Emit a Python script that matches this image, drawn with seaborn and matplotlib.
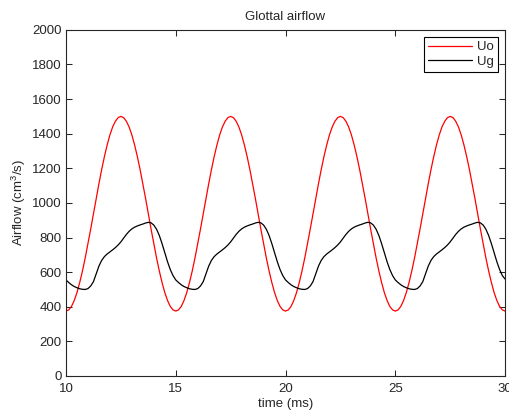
import numpy as np
import pandas as pd
import matplotlib
matplotlib.use("Agg")
import matplotlib.pyplot as plt
import seaborn as sns

# sample times (ms), 0.125 ms grid from 10 to 30
time_ms = np.round(np.arange(10.0, 30.0001, 0.125), 3)

# Uo (red) values
uo = [375, 382, 402, 436, 482, 540, 607, 682, 764, 849, 937, 1026, 1111, 1193, 1268, 1335, 1393, 1439, 1472, 1493,
      1500, 1493, 1472, 1439, 1393, 1335, 1268, 1193, 1111, 1026, 937, 849, 764, 682, 607, 540, 482, 436, 402, 382,
      375, 382, 402, 436, 482, 540, 607, 682, 764, 849, 937, 1026, 1111, 1193, 1268, 1335, 1393, 1439, 1472, 1493,
      1500, 1493, 1472, 1439, 1393, 1335, 1268, 1193, 1111, 1026, 937, 849, 764, 682, 607, 540, 482, 436, 402, 382,
      375, 382, 402, 436, 482, 540, 607, 682, 764, 849, 937, 1026, 1111, 1193, 1268, 1335, 1393, 1439, 1472, 1493,
      1500, 1493, 1472, 1439, 1393, 1335, 1268, 1193, 1111, 1026, 937, 849, 764, 682, 607, 540, 482, 436, 402, 382,
      375, 382, 402, 436, 482, 540, 607, 682, 764, 849, 937, 1026, 1111, 1193, 1268, 1335, 1393, 1439, 1472, 1493,
      1500, 1493, 1472, 1439, 1393, 1335, 1268, 1193, 1111, 1026, 937, 849, 764, 682, 607, 540, 482, 436, 402, 382,
      375]

# Ug (black) values
ug = [555, 540, 527, 517, 510, 504, 501, 500, 505, 520, 545, 590, 635, 668, 690, 705, 717, 729, 742, 757,
      775, 797, 818, 836, 850, 860, 867, 873, 878, 884, 888, 885, 872, 848, 812, 765, 712, 660, 615, 580,
      555, 540, 527, 517, 510, 504, 501, 500, 505, 520, 545, 590, 635, 668, 690, 705, 717, 729, 742, 757,
      775, 797, 818, 836, 850, 860, 867, 873, 878, 884, 888, 885, 872, 848, 812, 765, 712, 660, 615, 580,
      555, 540, 527, 517, 510, 504, 501, 500, 505, 520, 545, 590, 635, 668, 690, 705, 717, 729, 742, 757,
      775, 797, 818, 836, 850, 860, 867, 873, 878, 884, 888, 885, 872, 848, 812, 765, 712, 660, 615, 580,
      555, 540, 527, 517, 510, 504, 501, 500, 505, 520, 545, 590, 635, 668, 690, 705, 717, 729, 742, 757,
      775, 797, 818, 836, 850, 860, 867, 873, 878, 884, 888, 885, 872, 848, 812, 765, 712, 660, 615, 580,
      560]

series_names = ["Uo", "Ug"]
series_colors = ["#ff0000", "#000000"]
x_ticks = [10, 15, 20, 25, 30]
y_ticks = [0, 200, 400, 600, 800, 1000, 1200, 1400, 1600, 1800, 2000]

df = pd.concat([
    pd.DataFrame({"time": time_ms, "flow": uo, "series": "Uo"}),
    pd.DataFrame({"time": time_ms, "flow": ug, "series": "Ug"}),
])

sns.set_style("ticks")
plt.rcParams["font.family"] = ["Liberation Sans", "DejaVu Sans"]
plt.rcParams["mathtext.fontset"] = "custom"
plt.rcParams["mathtext.rm"] = "Liberation Sans"
plt.rcParams["mathtext.it"] = "Liberation Sans"

fig = plt.figure(figsize=(5.1, 4.15), dpi=100)
ax = fig.add_axes([0.1294, 0.094, 0.861, 0.834])

sns.lineplot(data=df, x="time", y="flow", hue="series", hue_order=series_names,
             palette=series_colors, linewidth=0.9, ax=ax, sort=False, estimator=None)

ax.set_xlim(10, 30)
ax.set_ylim(0, 2000)
ax.set_xticks(x_ticks)
ax.set_yticks(y_ticks)
ax.tick_params(direction="in", top=True, right=True, length=4, width=0.75,
               labelsize=9.5)
ax.tick_params(axis="x", pad=5)
ax.tick_params(axis="y", pad=3)
for s in ax.spines.values():
    s.set_linewidth(0.8)
    s.set_visible(True)

ax.set_title("Glottal airflow", fontsize=9.5, pad=7)
ax.set_xlabel("time (ms)", fontsize=9.5, labelpad=2)
ax.set_ylabel(r"Airflow (cm$^{3}$/s)", fontsize=9.5, labelpad=3)

leg = ax.legend(loc="upper right", fontsize=9.5, handlelength=3.3, fancybox=False,
                edgecolor="black", framealpha=1, borderaxespad=0.55,
                borderpad=0.3, labelspacing=0.15, handletextpad=0.4)
leg.get_frame().set_linewidth(0.8)

fig.savefig("out.png", dpi=100)
